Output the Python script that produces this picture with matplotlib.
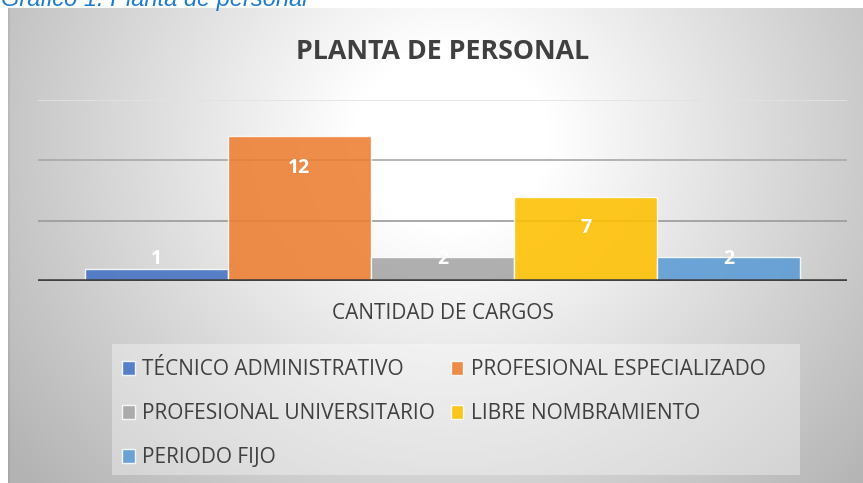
import numpy as np
import matplotlib
matplotlib.use('Agg')
import matplotlib.pyplot as plt
from matplotlib.patches import Rectangle

# data
categorias = ['TÉCNICO ADMINISTRATIVO', 'PROFESIONAL ESPECIALIZADO',
              'PROFESIONAL UNIVERSITARIO', 'LIBRE NOMBRAMIENTO', 'PERIODO FIJO']
valores = [1, 12, 2, 7, 2]
colores = ['#4472C4', '#ED7D31', '#A5A5A5', '#FFC000', '#5B9BD5']
eje_label = 'CANTIDAD DE CARGOS'
titulo = 'PLANTA DE PERSONAL'
caption = 'Gráfico 1. Planta de personal'

W, H = 863, 483
fig = plt.figure(figsize=(W / 100, H / 100), dpi=100)
fig.patch.set_facecolor('white')

# caption (cut off at the top like in the document)
fig.text(1 / W, 1 - 6 / H, caption, color='#1F7BCB', fontsize=17,
         style='italic', family='Liberation Sans', va='baseline', ha='left')

# chart background with radial gradient
bg = fig.add_axes([8 / W, 0, 1 - 8 / W, 1 - 8 / H], zorder=1)
yy, xx = np.mgrid[8:H, 8:W]
r = np.sqrt(((xx - 450) / 450.0) ** 2 + ((yy - 140) / 420.0) ** 2)
g = 255 - 58 * np.clip((r - 0.22) / 0.78, 0, 1.3)
g[:, :2] -= 12
img = np.dstack([g, g, g]).astype(np.uint8)
bg.imshow(img, aspect='auto', extent=[0, 1, 0, 1], interpolation='bilinear')
bg.set_axis_off()
# legend box
bg.add_patch(Rectangle(((112 - 8) / (W - 8), (H - 475) / (H - 8)),
                       (800 - 112) / (W - 8), (475 - 344) / (H - 8),
                       transform=bg.transAxes, facecolor='white', alpha=0.35,
                       edgecolor='none'))

# main plot
ax = fig.add_axes([38 / W, (H - 281) / H, (847 - 38) / W, (281 - 100) / H], zorder=2)
ax.patch.set_alpha(0)
x = np.arange(len(valores)) - 2
bars = ax.bar(x, valores, width=1.0, color=colores, alpha=0.88,
              edgecolor=(1, 1, 1, 0.45), linewidth=1, zorder=3, label=categorias)
ax.set_xlim(-2.825, 2.825)
ax.set_ylim(0, 15)
for yv, c in [(5, '#9a9a9a'), (10, '#a8a8a8'), (15, '#e2e2e2')]:
    ax.axhline(yv, color=c, linewidth=1.2, zorder=1)
ax.axhline(0, color='#404040', linewidth=2.6, zorder=4)
for s in ax.spines.values():
    s.set_visible(False)
ax.set_yticks([])
ax.set_xticks([0])
ax.set_xticklabels([eje_label], fontsize=15, color='#404040', family='Open Sans')
ax.tick_params(axis='x', length=0, pad=16)

for xi, v in zip(x, valores):
    ax.text(xi, max(v - 2.6, 1.85), str(v), ha='center', va='center', color='white',
            fontsize=14, fontweight='bold', family='Open Sans', zorder=5)

fig.text(443 / W, 1 - 52 / H, titulo, ha='center', va='center', fontsize=19.3,
         fontweight='bold', color='#404040', family='Open Sans', zorder=3)

orden = [0, 2, 4, 1, 3]
handles = [bars.patches[i] for i in orden]
labels = [categorias[i] for i in orden]
leg = fig.legend(handles, labels, ncol=2, loc='upper left',
                 bbox_to_anchor=(112 / W, 1 - 349 / H), frameon=False,
                 prop={'family': 'Open Sans', 'size': 15},
                 handlelength=0.6, handleheight=0.6, handletextpad=0.35,
                 columnspacing=0.75, labelspacing=1.1, borderpad=0)
for t in leg.get_texts():
    t.set_color('#404040')
leg.set_zorder(5)

fig.savefig('out.png', dpi=100)
